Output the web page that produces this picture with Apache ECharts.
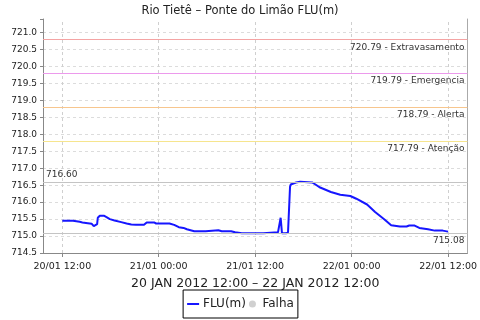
<!DOCTYPE html>
<html>
<head>
<meta charset="utf-8">
<script src="https://cdn.jsdelivr.net/npm/echarts@6/dist/echarts.min.js"></script>
<style>html,body{margin:0;padding:0;background:#fff;}#c{width:480px;height:320px;}</style>
</head>
<body>
<div id="c"></div>
<script>
// ---- data ----
const times = [
  '2012-01-20 12:00','2012-01-20 13:20','2012-01-20 14:10','2012-01-20 14:30','2012-01-20 15:10',
  '2012-01-20 15:40','2012-01-20 15:55','2012-01-20 16:20','2012-01-20 16:25','2012-01-20 16:40',
  '2012-01-20 17:10','2012-01-20 17:30','2012-01-20 17:55','2012-01-20 18:30','2012-01-20 19:20',
  '2012-01-20 20:00','2012-01-20 20:35','2012-01-20 21:10','2012-01-20 22:10','2012-01-20 22:30',
  '2012-01-20 23:25','2012-01-20 23:40','2012-01-21 01:20','2012-01-21 01:55','2012-01-21 02:30',
  '2012-01-21 03:05','2012-01-21 03:30','2012-01-21 04:25','2012-01-21 05:50','2012-01-21 06:00',
  '2012-01-21 07:25','2012-01-21 07:50','2012-01-21 09:00','2012-01-21 09:30','2012-01-21 10:20',
  '2012-01-21 13:00','2012-01-21 13:10','2012-01-21 14:50','2012-01-21 14:55','2012-01-21 15:10',
  '2012-01-21 15:20','2012-01-21 15:50','2012-01-21 16:05','2012-01-21 16:20','2012-01-21 16:25',
  '2012-01-21 17:05','2012-01-21 17:35','2012-01-21 19:05','2012-01-21 19:30','2012-01-21 20:05',
  '2012-01-21 21:25','2012-01-21 22:35','2012-01-21 23:50','2012-01-22 00:35','2012-01-22 01:55',
  '2012-01-22 02:55','2012-01-22 04:05','2012-01-22 04:55','2012-01-22 06:00','2012-01-22 06:50',
  '2012-01-22 07:10','2012-01-22 07:50','2012-01-22 08:25','2012-01-22 09:30','2012-01-22 10:20',
  '2012-01-22 11:20','2012-01-22 12:00'
];
const levels = [
  715.45, 715.45, 715.42, 715.40, 715.38,
  715.36, 715.29, 715.35, 715.54, 715.60,
  715.60, 715.56, 715.50, 715.46, 715.41,
  715.37, 715.34, 715.33, 715.33, 715.40,
  715.40, 715.37, 715.37, 715.33, 715.26,
  715.24, 715.20, 715.14, 715.14, 715.17,
  715.17, 715.14, 715.14, 715.11, 715.08,
  715.08, 715.11, 715.11, 715.14, 715.54,
  715.08, 715.08, 715.11, 716.45, 716.52,
  716.58, 716.60, 716.58, 716.52, 716.43,
  716.30, 716.22, 716.18, 716.10, 715.93,
  715.71, 715.49, 715.32, 715.28, 715.28,
  715.31, 715.31, 715.24, 715.20, 715.16,
  715.16, 715.13
];
const tickTimes = ['2012-01-20 12:00', '2012-01-21 00:00', '2012-01-21 12:00', '2012-01-22 00:00', '2012-01-22 12:00'];
const thresholdValues = [720.79, 719.79, 718.79, 717.79];
const thresholdNames = ['Extravasamento', 'Emergencia', 'Alerta', 'Atenção'];
const thresholdColors = ['#f4a4a4', '#ec9aec', '#f7c68e', '#f6e58e'];
const seriesNames = ['FLU(m)', 'Falha'];
const titleText = 'Rio Tietê – Ponte do Limão FLU(m)';
const xAxisTitle = '20 JAN 2012 12:00 – 22 JAN 2012 12:00';
const xMin = '2012-01-20 09:36';
const xMax = '2012-01-22 14:24';

// ---- chart ----
const FONT = 'DejaVu Sans';
const pad = n => (n < 10 ? '0' : '') + n;
const toTs = s => {
  const m = s.match(/(\d+)-(\d+)-(\d+) (\d+):(\d+)/);
  return new Date(+m[1], +m[2] - 1, +m[3], +m[4], +m[5]).getTime();
};
const lineData = times.map((t, i) => [toTs(t), levels[i]]);
const tickValues = tickTimes.map(toTs);

const markData = thresholdValues.map((v, i) => ({
  yAxis: v,
  lineStyle: { color: thresholdColors[i], type: 'solid', width: 1 },
  label: { formatter: v.toFixed(2) + ' - ' + thresholdNames[i], position: 'insideEndBottom' }
}));
markData.push({
  type: 'max',
  lineStyle: { color: '#c4c4c4', type: 'solid', width: 1 },
  label: { position: 'insideStartTop', formatter: p => Number(p.value).toFixed(2) }
});
markData.push({
  type: 'min',
  lineStyle: { color: '#c4c4c4', type: 'solid', width: 1 },
  label: { position: 'insideEndBottom', formatter: p => Number(p.value).toFixed(2) }
});
const gridXData = tickValues.map(v => ({ xAxis: v }));

const chart = echarts.init(document.getElementById('c'), null, { renderer: 'canvas' });
chart.setOption({
  animation: false,
  backgroundColor: '#fff',
  textStyle: { fontFamily: FONT },
  title: {
    text: titleText, left: 'center', top: 0,
    textStyle: { fontFamily: FONT, fontSize: 11.5, fontWeight: 'normal', color: '#222' }
  },
  legend: {
    data: [{ name: seriesNames[0], itemStyle: { opacity: 0 } }, { name: seriesNames[1], icon: 'circle' }],
    left: 'center', top: 290,
    borderColor: '#000', borderWidth: 1, borderRadius: 0,
    padding: [8, 4, 8, 3],
    itemWidth: 12, itemHeight: 7, itemGap: 3,
    textStyle: { fontFamily: FONT, fontSize: 12, color: '#222', padding: [0, 0, 0, -1] }
  },
  grid: { left: 43, right: 8, top: 19, bottom: 67, containLabel: false },
  xAxis: {
    type: 'value',
    min: toTs(xMin), max: toTs(xMax),
    name: xAxisTitle, nameLocation: 'middle', nameGap: 24,
    nameTextStyle: { fontFamily: FONT, fontSize: 12.5, color: '#222' },
    axisLine: { lineStyle: { color: '#888' } },
    axisTick: { show: true, length: 4, customValues: tickValues, lineStyle: { color: '#888' } },
    axisLabel: {
      fontFamily: FONT, fontSize: 9.5, color: '#222', margin: 9,
      customValues: tickValues,
      formatter: function (v) {
        const d = new Date(v);
        return pad(d.getDate()) + '/' + pad(d.getMonth() + 1) + ' ' + pad(d.getHours()) + ':' + pad(d.getMinutes());
      }
    },
    splitLine: { show: false }
  },
  yAxis: [{
    type: 'value',
    min: 714.5, max: 721.4, interval: 0.5,
    axisLine: { show: true, lineStyle: { color: '#888' } },
    axisTick: { show: true, length: 3, lineStyle: { color: '#888' } },
    axisLabel: {
      fontFamily: FONT, fontSize: 9, color: '#222', margin: 6,
      formatter: function (v) {
        const r = Math.round(v * 2) / 2;
        if (Math.abs(r - v) > 1e-6) return '';
        return v.toFixed(1);
      }
    },
    splitLine: { show: true, showMaxLine: false, lineStyle: { color: '#dcdcdc', type: [3, 3] } }
  }, {
    type: 'value', position: 'right',
    min: 714.5, max: 721.4,
    axisLine: { show: true, lineStyle: { color: '#aaa' } },
    axisTick: { show: false }, axisLabel: { show: false }, splitLine: { show: false }
  }],
  series: [{
    name: seriesNames[0],
    type: 'line',
    z: 3,
    data: lineData,
    symbol: 'none',
    color: '#1616ff',
    lineStyle: { color: '#1616ff', width: 2 },
    markLine: {
      silent: true,
      symbol: ['none', 'none'],
      precision: 2,
      label: { fontFamily: FONT, fontSize: 9, color: '#333', distance: 3 },
      data: markData
    }
  }, {
    name: seriesNames[1],
    type: 'scatter',
    z: 1,
    data: [],
    color: '#c4c4c4',
    markLine: {
      silent: true,
      z: 1,
      symbol: ['none', 'none'],
      label: { show: false },
      lineStyle: { color: '#cfcfcf', type: [3, 3], width: 1 },
      data: gridXData
    }
  }]
});
</script>
</body>
</html>
